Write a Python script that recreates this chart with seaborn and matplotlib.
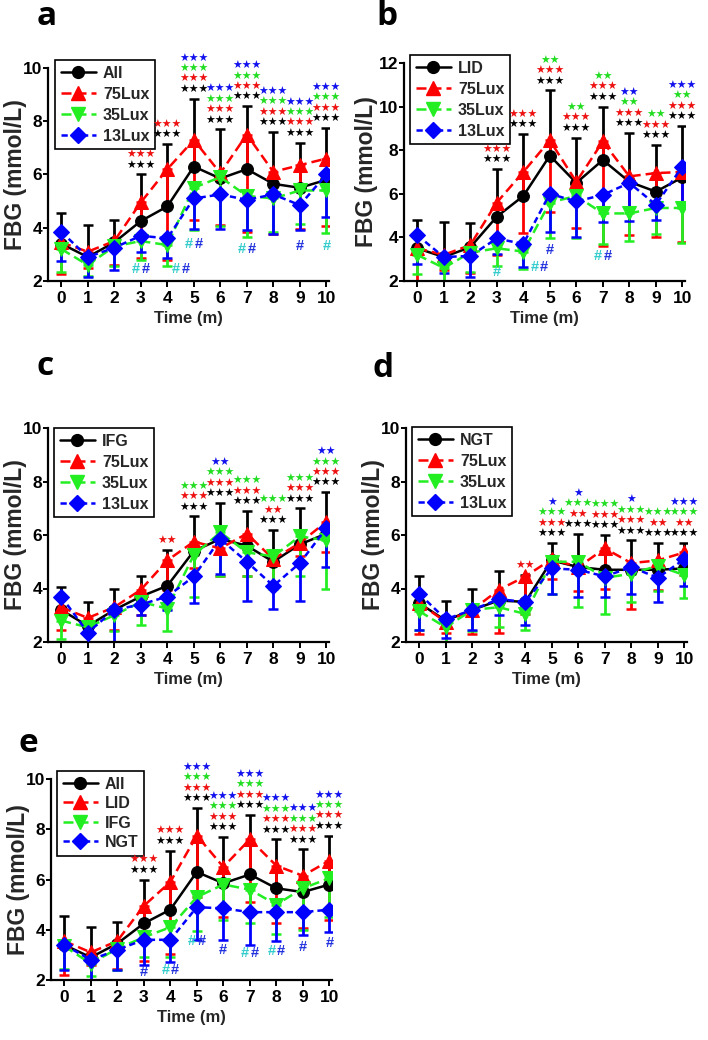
import numpy as np
import pandas as pd
import matplotlib
matplotlib.use("Agg")
import matplotlib.pyplot as plt
from matplotlib import font_manager as fm
from matplotlib.lines import Line2D
import seaborn as sns

# ---------------- data ----------------
time_m = list(range(11))

# panel a : All / 75Lux / 35Lux / 13Lux
a_labels = ["All", "75Lux", "35Lux", "13Lux"]
a_all = [3.4, 2.9, 3.45, 4.25, 4.8, 6.3, 5.85, 6.2, 5.65, 5.5, 5.8]
a_all_sd = [1.15, 1.2, 0.85, 1.75, 2.35, 2.55, 1.85, 2.37, 1.95, 1.7, 1.95]
a_75 = [3.45, 3.1, 3.5, 4.95, 6.2, 7.3, 6.05, 7.5, 6.1, 6.35, 6.6]
a_75_sd = [1.2, 0.6, 0.9, 2.1, 3.4, 3.0, 1.95, 3.65, 2.35, 2.4, 2.55]
a_35 = [3.2, 2.6, 3.3, 3.5, 3.35, 5.5, 5.9, 5.2, 5.1, 5.4, 5.4]
a_35_sd = [0.85, 0.4, 0.75, 0.7, 0.8, 1.6, 1.85, 1.55, 1.25, 1.25, 1.6]
a_13 = [3.85, 2.9, 3.25, 3.7, 3.6, 5.1, 5.25, 5.05, 5.25, 4.85, 6.0]
a_13_sd = [1.1, 0.75, 0.85, 0.6, 0.75, 1.15, 1.3, 1.15, 1.5, 0.95, 1.6]
a_star_k = ["", "", "", "***", "***", "***", "***", "***", "***", "***", "***"]
a_star_r = ["", "", "", "***", "***", "***", "***", "***", "***", "***", "***"]
a_star_g = ["", "", "", "", "", "***", "***", "***", "***", "***", "***"]
a_star_b = ["", "", "", "", "", "***", "***", "***", "***", "***", "***"]
a_hash_t = [3, 4.5, 5, 7, 9, 10]
a_hash_v = [2.45, 2.45, 3.4, 3.2, 3.3, 3.3]
a_hash_kind = ["cb", "cb", "cb", "cb", "b", "c"]

# panel b : LID / 75Lux / 35Lux / 13Lux
b_labels = ["LID", "75Lux", "35Lux", "13Lux"]
b_lid = [3.5, 3.1, 3.55, 4.95, 5.9, 7.75, 6.5, 7.55, 6.55, 6.1, 6.75]
b_lid_sd = [1.3, 1.6, 1.1, 2.18, 2.84, 3.0, 2.08, 2.45, 2.25, 2.15, 2.37]
b_75 = [3.5, 3.2, 3.65, 5.6, 7.0, 8.45, 6.55, 8.4, 6.8, 6.95, 7.0]
b_75_sd = [1.5, 0.7, 1.3, 2.4, 2.8, 3.3, 2.1, 4.8, 2.7, 2.95, 3.2]
b_35 = [3.2, 2.6, 3.3, 3.5, 3.35, 5.6, 5.9, 5.1, 5.1, 5.35, 5.35]
b_35_sd = [0.9, 0.6, 0.9, 0.8, 0.8, 1.65, 1.95, 1.4, 1.25, 1.2, 1.6]
b_13 = [4.1, 3.1, 3.15, 3.95, 3.7, 6.0, 5.65, 5.95, 6.5, 5.5, 7.25]
b_13_sd = [1.3, 0.75, 0.95, 0.7, 1.05, 1.75, 1.65, 1.25, 1.75, 0.7, 1.75]
b_star_k = ["", "", "", "***", "***", "***", "***", "***", "***", "***", "***"]
b_star_r = ["", "", "", "***", "***", "***", "***", "***", "***", "***", "***"]
b_star_g = ["", "", "", "", "", "**", "**", "**", "**", "**", "**"]
b_star_b = ["", "", "", "", "", "", "", "", "**", "", "***"]
b_hash_t = [3, 4.6, 5, 7]
b_hash_v = [2.43, 2.63, 3.42, 3.15]
b_hash_kind = ["c", "cb", "b", "cb"]

# panel c : IFG / 75Lux / 35Lux / 13Lux
c_labels = ["IFG", "75Lux", "35Lux", "13Lux"]
c_ifg = [3.2, 2.6, 3.2, 3.7, 4.1, 5.4, 5.85, 5.6, 5.0, 5.65, 6.05]
c_ifg_sd = [0.85, 0.9, 0.8, 0.75, 1.35, 1.3, 1.35, 1.3, 1.2, 1.35, 1.55]
c_75 = [3.3, 2.9, 3.3, 3.95, 5.05, 5.75, 5.5, 6.05, 5.1, 5.7, 6.5]
c_75_sd = [0.85, 0.5, 0.85, 0.95, 1.1, 1.0, 1.05, 1.6, 1.0, 0.5, 1.15]
c_35 = [2.8, 2.55, 3.0, 3.5, 3.25, 5.25, 6.1, 5.35, 5.2, 5.95, 5.8]
c_35_sd = [0.7, 0.55, 0.6, 0.85, 0.85, 1.55, 1.65, 0.9, 1.2, 1.5, 1.8]
c_13 = [3.7, 2.35, 3.2, 3.4, 3.7, 4.45, 5.85, 5.0, 4.1, 4.95, 6.25]
c_13_sd = [0.7, 0.35, 1.2, 0.4, 0.5, 1.0, 1.3, 1.45, 0.85, 1.4, 1.45]
c_star_k = ["", "", "", "", "", "***", "***", "***", "***", "***", "***"]
c_star_r = ["", "", "", "", "**", "***", "***", "***", "**", "***", "***"]
c_star_g = ["", "", "", "", "", "***", "***", "***", "***", "***", "***"]
c_star_b = ["", "", "", "", "", "", "**", "", "", "", "**"]
c_hash_t, c_hash_v, c_hash_kind = [], [], []

# panel d : NGT / 75Lux / 35Lux / 13Lux
d_labels = ["NGT", "75Lux", "35Lux", "13Lux"]
d_ngt = [3.45, 2.8, 3.2, 3.55, 3.5, 5.05, 4.8, 4.7, 4.7, 4.7, 4.75]
d_ngt_sd = [1.0, 0.75, 0.8, 1.1, 1.0, 0.65, 1.25, 1.3, 1.1, 1.0, 0.95]
d_75 = [3.45, 2.75, 3.2, 3.95, 4.45, 5.1, 4.8, 5.5, 4.95, 5.05, 5.35]
d_75_sd = [1.15, 0.4, 0.9, 1.6, 1.4, 0.75, 0.9, 1.5, 1.7, 1.1, 0.85]
d_35 = [3.15, 2.55, 3.2, 3.3, 3.05, 5.0, 5.0, 4.4, 4.55, 4.85, 4.5]
d_35_sd = [0.7, 0.55, 0.8, 0.75, 0.6, 1.2, 1.7, 1.35, 1.05, 0.95, 0.85]
d_13 = [3.8, 2.85, 3.2, 3.6, 3.5, 4.75, 4.7, 4.45, 4.8, 4.4, 5.1]
d_13_sd = [1.35, 0.7, 0.75, 0.6, 0.85, 0.95, 1.0, 0.75, 1.0, 0.9, 1.0]
d_star_k = ["", "", "", "", "", "***", "***", "***", "***", "***", "***"]
d_star_r = ["", "", "", "", "**", "***", "**", "***", "***", "**", "**"]
d_star_g = ["", "", "", "", "", "***", "***", "***", "***", "***", "***"]
d_star_b = ["", "", "", "", "", "*", "*", "", "*", "", "***"]
d_hash_t, d_hash_v, d_hash_kind = [], [], []

# panel e : All / LID / IFG / NGT
e_labels = ["All", "LID", "IFG", "NGT"]
e_all = a_all
e_all_sd = a_all_sd
e_lid = [3.55, 3.1, 3.55, 4.95, 5.9, 7.75, 6.5, 7.6, 6.55, 6.15, 6.75]
e_lid_sd = [1.35, 0.5, 1.1, 2.2, 2.85, 2.45, 2.0, 2.5, 2.3, 2.1, 2.35]
e_ifg = [3.35, 2.65, 3.25, 3.7, 4.1, 5.3, 5.8, 5.6, 5.0, 5.65, 6.05]
e_ifg_sd = [0.9, 0.5, 0.85, 0.8, 1.2, 1.35, 1.4, 1.35, 1.15, 1.65, 1.55]
e_ngt = [3.4, 2.8, 3.2, 3.6, 3.6, 4.9, 4.85, 4.7, 4.7, 4.7, 4.8]
e_ngt_sd = [1.0, 0.8, 0.8, 1.0, 0.9, 1.3, 1.25, 1.3, 1.15, 0.9, 0.9]
e_star_k = ["", "", "", "***", "***", "***", "***", "***", "***", "***", "***"]
e_star_r = ["", "", "", "***", "***", "***", "***", "***", "***", "***", "***"]
e_star_g = ["", "", "", "", "", "***", "***", "***", "***", "***", "***"]
e_star_b = ["", "", "", "", "", "***", "***", "***", "***", "***", "***"]
e_hash_t = [3, 4, 5, 6, 7, 8, 9, 10]
e_hash_v = [2.33, 2.4, 3.56, 3.19, 3.06, 3.15, 3.33, 3.49]
e_hash_kind = ["b", "cb", "cb", "b", "cb", "cb", "b", "b"]

panel_letters = ["a", "b", "c", "d", "e"]

# ---------------- style ----------------
sns.set_theme(style="ticks")
names = {f.name for f in fm.fontManager.ttflist}
NARROW = "Liberation Sans Narrow" if "Liberation Sans Narrow" in names else "Liberation Sans"
IS_NARROW = NARROW == "Liberation Sans Narrow"
plt.rcParams["font.family"] = [NARROW, "DejaVu Sans"]
TICK_FS = 15 if IS_NARROW else 12.5
XLAB_FS = 14.5 if IS_NARROW else 12
LEG_FS = 14 if IS_NARROW else 11.5

BLACK = "#000000"
RED = "#ff0000"
GREEN = "#22ee22"
BLUE = "#0000ff"
CYAN = "#33cccc"
HBLUE = "#2233dd"
COLORS = [BLACK, RED, GREEN, BLUE]
STAR_COLORS = [BLACK, "#ee1111", "#22dd22", "#1111ee"]
MARKERS = ["o", "^", "v", "D"]
MSIZES = [8.5, 10, 10, 8]
LSTYLES = ["-", (0, (4, 2)), (0, (4, 2)), (0, (2.5, 1.6))]

W, H = 708, 1040
fig = plt.figure(figsize=(W / 100, H / 100), dpi=100)


def rect(left, top, width, height):
    return [left / W, 1 - (top + height) / H, width / W, height / H]


def draw_panel(ax, labels, means, sds, stars, hashes, ylim, yticks, legend_xy,
               leg_spacing=0.38, ylabelpad=-2.5):
    # long-form data frame for seaborn
    df = pd.DataFrame({
        "Time": time_m * 4,
        "FBG": np.concatenate(means),
        "Group": np.repeat(labels, len(time_m)),
    })
    # error bars: first group upward, others downward
    for j, (m, s) in enumerate(zip(means, sds)):
        s = np.asarray(s)
        z = np.zeros_like(s)
        yerr = [z, s] if j == 0 else [s, z]
        ax.errorbar(time_m, m, yerr=yerr, fmt="none", ecolor=COLORS[j],
                    elinewidth=2.0, capsize=3.8, capthick=1.8, zorder=2 + j * 0.1)
    handles = []
    for j, lab in enumerate(labels):
        sub = df[df["Group"] == lab]
        sns.lineplot(data=sub, x="Time", y="FBG", ax=ax, color=COLORS[j],
                     marker=MARKERS[j], markersize=MSIZES[j],
                     markeredgecolor=COLORS[j], markerfacecolor=COLORS[j],
                     linestyle=LSTYLES[j], linewidth=1.8, errorbar=None,
                     legend=False, zorder=3 + j * 0.1)
        handles.append(Line2D([], [], color=COLORS[j], marker=MARKERS[j],
                              markersize=MSIZES[j], linestyle=LSTYLES[j],
                              linewidth=1.8, label=lab))
    # significance stars stacked above the first group's upper error bar
    cap = np.asarray(means[0]) + np.asarray(sds[0])
    for i in time_m:
        k = 0
        for row, col in zip(stars, STAR_COLORS):
            s = row[i]
            if s:
                ax.annotate(s.replace("*", "\u2605"), xy=(i, cap[i]),
                            xytext=(0, 6.3 + k * 7.5), textcoords="offset points",
                            ha="center", va="center", fontsize=7.8, color=col,
                            family="DejaVu Sans", annotation_clip=False, zorder=7)
                k += 1
    # hash marks
    ht, hv, hk = hashes
    for x, y, kind in zip(ht, hv, hk):
        if kind == "cb":
            parts = [(-3.5, CYAN), (3.5, HBLUE)]
        elif kind == "c":
            parts = [(0, CYAN)]
        else:
            parts = [(0, HBLUE)]
        for dx, col in parts:
            ax.annotate("#", xy=(x, y), xytext=(dx, 0), textcoords="offset points",
                        ha="center", va="center", fontsize=10.5, fontweight="bold",
                        color=col, family="Liberation Sans", annotation_clip=False)
    ax.set_xlim(-0.5, 10.1)
    ax.set_ylim(*ylim)
    ax.set_xticks(time_m)
    ax.set_yticks(yticks)
    ax.set_xticklabels([str(t) for t in time_m], fontsize=TICK_FS, fontweight="bold")
    ax.set_yticklabels([str(t) for t in yticks], fontsize=TICK_FS, fontweight="bold")
    ax.tick_params(axis="x", direction="out", length=4, width=1.4, pad=3.5, colors="black")
    ax.tick_params(axis="y", direction="out", length=3.5, width=1.4, pad=0.5, colors="black")
    ax.set_xlabel("Time (m)", fontsize=XLAB_FS, fontweight="bold", labelpad=3)
    ax.set_ylabel("FBG (mmol/L)", fontsize=16.5, fontweight="bold",
                  family="Liberation Sans", labelpad=ylabelpad)
    for sp in ["top", "right"]:
        ax.spines[sp].set_visible(False)
    for sp in ["left", "bottom"]:
        ax.spines[sp].set_linewidth(1.6)
        ax.spines[sp].set_color("black")
    lx, ly = legend_xy
    leg = ax.legend(handles=handles, loc="upper left",
                    bbox_to_anchor=(lx / W, 1 - ly / H), bbox_transform=fig.transFigure,
                    borderaxespad=0, frameon=True, fancybox=False, framealpha=1,
                    edgecolor="black", handlelength=2.2, handletextpad=0.45,
                    labelspacing=leg_spacing, borderpad=0.35,
                    prop={"family": NARROW, "weight": "bold", "size": LEG_FS})
    leg.get_frame().set_linewidth(1.2)
    leg.set_zorder(6)


ax_a = fig.add_axes(rect(48, 68, 281, 213))
draw_panel(ax_a, a_labels, [a_all, a_75, a_35, a_13], [a_all_sd, a_75_sd, a_35_sd, a_13_sd],
           [a_star_k, a_star_r, a_star_g, a_star_b], (a_hash_t, a_hash_v, a_hash_kind),
           (2, 10), [2, 4, 6, 8, 10], (55, 60))

ax_b = fig.add_axes(rect(404, 63, 281, 218))
draw_panel(ax_b, b_labels, [b_lid, b_75, b_35, b_13], [b_lid_sd, b_75_sd, b_35_sd, b_13_sd],
           [b_star_k, b_star_r, b_star_g, b_star_b], (b_hash_t, b_hash_v, b_hash_kind),
           (2, 12), [2, 4, 6, 8, 10, 12], (410, 55), ylabelpad=0.5)

ax_c = fig.add_axes(rect(48, 428, 281, 214))
draw_panel(ax_c, c_labels, [c_ifg, c_75, c_35, c_13], [c_ifg_sd, c_75_sd, c_35_sd, c_13_sd],
           [c_star_k, c_star_r, c_star_g, c_star_b], (c_hash_t, c_hash_v, c_hash_kind),
           (2, 10), [2, 4, 6, 8, 10], (54, 428))

ax_d = fig.add_axes(rect(406, 428, 281, 214))
draw_panel(ax_d, d_labels, [d_ngt, d_75, d_35, d_13], [d_ngt_sd, d_75_sd, d_35_sd, d_13_sd],
           [d_star_k, d_star_r, d_star_g, d_star_b], (d_hash_t, d_hash_v, d_hash_kind),
           (2, 10), [2, 4, 6, 8, 10], (412, 427))

ax_e = fig.add_axes(rect(51, 779, 281, 201))
draw_panel(ax_e, e_labels, [e_all, e_lid, e_ifg, e_ngt], [e_all_sd, e_lid_sd, e_ifg_sd, e_ngt_sd],
           [e_star_k, e_star_r, e_star_g, e_star_b], (e_hash_t, e_hash_v, e_hash_kind),
           (2, 10), [2, 4, 6, 8, 10], (57, 771), leg_spacing=0.28)

letter_pos = [(37, 25), (376, 25), (36, 375), (372, 377), (19, 752)]
for lt, (x, y) in zip(panel_letters, letter_pos):
    fig.text(x / W, 1 - y / H, lt, fontsize=24, family="Open Sans", fontweight="bold",
             ha="left", va="baseline", color="black")

fig.savefig("out.png", dpi=100)
